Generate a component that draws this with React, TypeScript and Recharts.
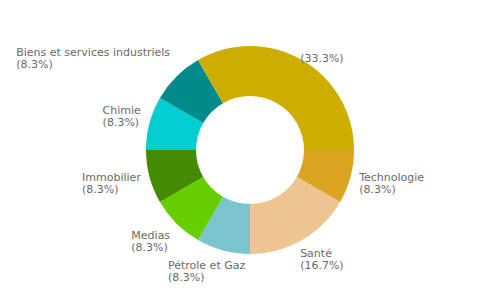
import { PieChart, Pie, Cell } from "recharts";

const categories = [
  "Technologie",
  "Santé",
  "Pétrole et Gaz",
  "Medias",
  "Immobilier",
  "Chimie",
  "Biens et services industriels",
  "",
];
const shares = [1, 2, 1, 1, 1, 1, 1, 4];
const COLORS = ["#DAA520", "#EEC591", "#7AC5CD", "#66CD00", "#458B00", "#00CED1", "#008B8B", "#CDAD00"];

const data = categories.map((name, i) => ({ name, value: shares[i] }));

const FONT = "11px 'DejaVu Sans'";
const LINE = 12;
const RADIAN = Math.PI / 180;

let ctx: CanvasRenderingContext2D | null = null;
function textWidth(s: string) {
  if (!ctx) ctx = document.createElement("canvas").getContext("2d");
  if (!ctx) return s.length * 6;
  ctx.font = FONT;
  return ctx.measureText(s).width;
}

const clamp = (v: number) => Math.max(0, Math.min(1, v));

// eslint-disable-next-line @typescript-eslint/no-explicit-any
function SliceLabel({ cx, cy, midAngle, outerRadius, percent, name }: any) {
  const r = outerRadius + 9;
  const c = Math.cos(-midAngle * RADIAN);
  const s = Math.sin(-midAngle * RADIAN);
  const x = cx + r * c;
  const y = cy + r * s;
  const pct = `(${(percent * 100).toFixed(1)}%)`;
  const w = Math.max(textWidth(name), textWidth(pct));
  const h = (name ? 2 : 1) * LINE;
  const hj = clamp((1 - c / 0.707) / 2);
  const vj = clamp((1 - s / 0.707) / 2);
  const left = x - hj * w;
  const top = y - vj * h;
  return (
    <text fontFamily="'DejaVu Sans'" fontSize={11} fill="#6a6a6a" textAnchor="start">
      <tspan x={left} y={top + 9.5}>{name}</tspan>
      <tspan x={left} y={top + LINE + 9.5}>{pct}</tspan>
    </text>
  );
}

export default function App() {
  return (
    <div style={{ position: "absolute", left: 0, top: 0, background: "#fff" }}>
      <PieChart width={500} height={300} margin={{ top: 0, right: 0, bottom: 0, left: 0 }}>
        <Pie
          data={data}
          dataKey="value"
          nameKey="name"
          cx={250}
          cy={150}
          innerRadius={54}
          outerRadius={104}
          startAngle={0}
          endAngle={-360}
          stroke="none"
          label={SliceLabel}
          labelLine={false}
          isAnimationActive={false}
        >
          {data.map((_, i) => (
            <Cell key={i} fill={COLORS[i]} stroke="none" />
          ))}
        </Pie>
      </PieChart>
    </div>
  );
}
